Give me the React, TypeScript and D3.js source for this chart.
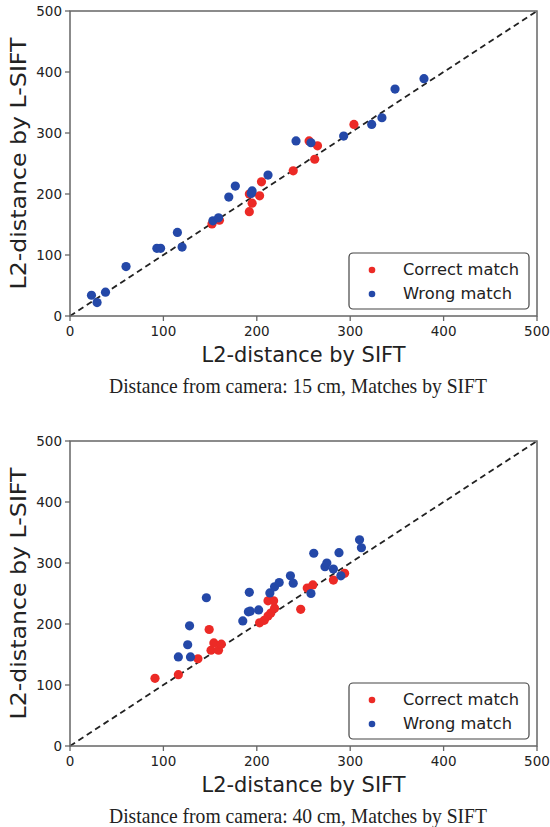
import React from "react";
import * as d3 from "d3";

const ticks = [0, 100, 200, 300, 400, 500];

const topCorrectX = [152, 160, 192, 195, 192, 203, 205, 239, 256, 262, 265, 304];
const topCorrectY = [151, 157, 171, 185, 200, 197, 220, 238, 287, 257, 279, 314];
const topWrongX = [23, 29, 38, 60, 93, 97, 115, 120, 153, 159, 170, 177, 194, 195, 212, 242, 258, 293, 323, 334, 348, 379];
const topWrongY = [34, 22, 39, 81, 111, 111, 137, 113, 156, 161, 195, 213, 201, 205, 231, 287, 284, 295, 314, 325, 372, 389];

const botCorrectX = [91, 116, 137, 149, 151, 159, 154, 162, 203, 208, 212, 215, 219, 212, 218, 247, 254, 260, 282, 294];
const botCorrectY = [111, 117, 143, 191, 157, 157, 169, 167, 202, 206, 213, 218, 226, 238, 238, 224, 259, 264, 272, 283];
const botWrongX = [116, 129, 126, 128, 146, 185, 191, 192, 193, 202, 214, 219, 224, 236, 239, 258, 261, 273, 275, 282, 288, 290, 310, 312];
const botWrongY = [146, 146, 166, 197, 243, 205, 220, 252, 221, 223, 251, 261, 268, 279, 267, 250, 316, 294, 300, 290, 317, 279, 338, 325];

const captions = [
  "Distance from camera: 15 cm, Matches by SIFT",
  "Distance from camera: 40 cm, Matches by SIFT",
];

const RED = "#ec2a26";
const BLUE = "#2448a8";
const SPINE = "#666";
const FONT = "DejaVu Sans, sans-serif";

function Panel({ top, bottom, cx, cy, wx, wy, caption }: any) {
  const x = d3.scaleLinear().domain([0, 500]).range([70, 537]);
  const y = d3.scaleLinear().domain([0, 500]).range([bottom, top]);
  const b = y(0);
  return (
    <g>
      <line x1={x(0)} y1={y(0)} x2={x(500)} y2={y(500)} stroke="#222" strokeWidth={1.8} strokeDasharray="6,4" />
      {cx.map((v: number, i: number) => (
        <circle key={"c" + i} cx={x(v)} cy={y(cy[i])} r={4.6} fill={RED} />
      ))}
      {wx.map((v: number, i: number) => (
        <circle key={"w" + i} cx={x(v)} cy={y(wy[i])} r={4.6} fill={BLUE} />
      ))}
      <rect x={x(0)} y={y(500)} width={x(500) - x(0)} height={y(0) - y(500)} fill="none" stroke={SPINE} strokeWidth={1.5} />
      {ticks.map((t) => (
        <g key={"xt" + t}>
          <line x1={x(t)} x2={x(t)} y1={b} y2={b + 5} stroke={SPINE} strokeWidth={1.3} />
          <text x={x(t)} y={b + 19.5} textAnchor="middle" fontFamily={FONT} fontSize={13.5} fill="#222">{t}</text>
          <line x1={x(0) - 5} x2={x(0)} y1={y(t)} y2={y(t)} stroke={SPINE} strokeWidth={1.3} />
          <text x={x(0) - 8} y={y(t) + 5} textAnchor="end" fontFamily={FONT} fontSize={13.5} fill="#222">{t}</text>
        </g>
      ))}
      <text x={(x(0) + x(500)) / 2} y={b + 46} textAnchor="middle" fontFamily={FONT} fontSize={21} textLength={204} lengthAdjust="spacingAndGlyphs" fill="#222">L2-distance by SIFT</text>
      <text transform={`translate(25.5,${(y(0) + y(500)) / 2}) rotate(-90)`} textAnchor="middle" fontFamily={FONT} fontSize={21} textLength={252} lengthAdjust="spacingAndGlyphs" fill="#222">L2-distance by L-SIFT</text>
      <text x={298} y={b + 77} textAnchor="middle" fontFamily="Liberation Serif, serif" fontSize={21} textLength={378} lengthAdjust="spacingAndGlyphs" fill="#222">{caption}</text>
      <g>
        <rect x={349} y={b - 63} width={180} height={56} rx={4} fill="white" stroke="#444" strokeWidth={1.2} />
        <circle cx={372} cy={b - 46} r={3.3} fill={RED} />
        <text x={403} y={b - 41} fontFamily={FONT} fontSize={16.3} fill="#222">Correct match</text>
        <circle cx={372} cy={b - 22} r={3.3} fill={BLUE} />
        <text x={403} y={b - 17} fontFamily={FONT} fontSize={16.3} fill="#222">Wrong match</text>
      </g>
    </g>
  );
}

export default function App() {
  return (
    <svg width={550} height={827} style={{ position: "absolute", left: 0, top: 0, background: "white" }}>
      <rect width={550} height={827} fill="white" />
      <Panel top={11} bottom={316} cx={topCorrectX} cy={topCorrectY} wx={topWrongX} wy={topWrongY} caption={captions[0]} />
      <Panel top={441} bottom={746} cx={botCorrectX} cy={botCorrectY} wx={botWrongX} wy={botWrongY} caption={captions[1]} />
    </svg>
  );
}
